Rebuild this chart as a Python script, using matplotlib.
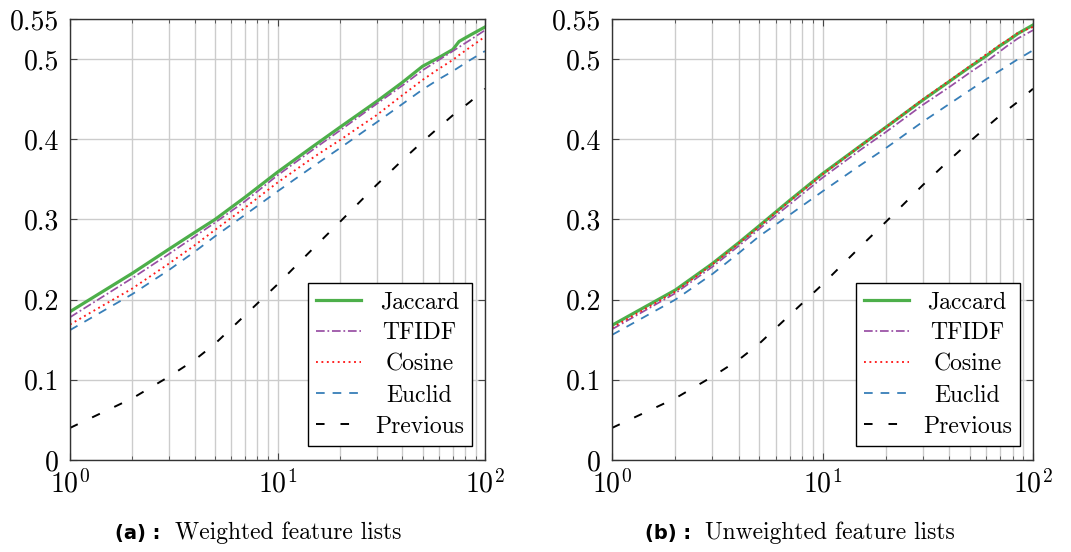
import matplotlib
matplotlib.use("Agg")
import matplotlib.pyplot as plt
from matplotlib.ticker import FixedLocator, FixedFormatter, LogLocator, NullFormatter
from matplotlib.transforms import Affine2D

plt.rcParams['font.family'] = ['cmr10', 'DejaVu Serif']
plt.rcParams['mathtext.fontset'] = 'cm'
plt.rcParams['axes.formatter.use_mathtext'] = True
plt.rcParams['axes.unicode_minus'] = False

# ---------------- data ----------------
k = [1, 2, 3, 4, 5, 7, 10, 15, 20, 30, 40, 50, 60, 70, 75, 85, 100]

w_jaccard = [0.185, 0.233, 0.263, 0.284, 0.300, 0.328, 0.359, 0.392, 0.415, 0.447, 0.471, 0.491,
             0.502, 0.512, 0.522, 0.530, 0.540]
w_tfidf = [0.178, 0.227, 0.257, 0.279, 0.296, 0.323, 0.355, 0.388, 0.411, 0.444, 0.467, 0.486,
           0.499, 0.510, 0.515, 0.524, 0.536]
w_cosine = [0.169, 0.214, 0.245, 0.268, 0.287, 0.315, 0.346, 0.378, 0.399, 0.430, 0.455, 0.474,
            0.488, 0.499, 0.505, 0.515, 0.528]
w_euclid = [0.162, 0.207, 0.237, 0.260, 0.279, 0.306, 0.335, 0.367, 0.389, 0.421, 0.444, 0.462,
            0.475, 0.485, 0.490, 0.499, 0.510]
w_previous = [0.040, 0.077, 0.104, 0.125, 0.145, 0.181, 0.219, 0.265, 0.297, 0.343, 0.374, 0.397,
              0.415, 0.430, 0.436, 0.447, 0.463]

u_jaccard = [0.168, 0.212, 0.245, 0.271, 0.292, 0.324, 0.357, 0.391, 0.415, 0.449, 0.472, 0.490,
             0.504, 0.517, 0.522, 0.532, 0.5425]
u_tfidf = [0.163, 0.208, 0.241, 0.267, 0.288, 0.319, 0.352, 0.386, 0.409, 0.443, 0.465, 0.483,
           0.497, 0.510, 0.516, 0.526, 0.536]
u_cosine = [0.165, 0.210, 0.244, 0.270, 0.291, 0.323, 0.356, 0.391, 0.415, 0.450, 0.473, 0.491,
            0.506, 0.518, 0.523, 0.533, 0.540]
u_euclid = [0.156, 0.200, 0.232, 0.258, 0.279, 0.306, 0.335, 0.367, 0.389, 0.422, 0.444, 0.461,
            0.475, 0.486, 0.491, 0.500, 0.511]
u_previous = [0.040, 0.077, 0.104, 0.125, 0.145, 0.181, 0.219, 0.265, 0.297, 0.343, 0.374, 0.397,
              0.415, 0.430, 0.436, 0.447, 0.463]

labels = ['Jaccard', 'TFIDF', 'Cosine', 'Euclid', 'Previous']
y_ticks = [0, 0.1, 0.2, 0.3, 0.4, 0.5, 0.55]
y_ticklabels = ['0', '0.1', '0.2', '0.3', '0.4', '0.5', '0.55']
captions = [('(a) :', 'Weighted feature lists'), ('(b) :', 'Unweighted feature lists')]

# ---------------- styles ----------------
styles = [
    dict(color='#4daf4a', lw=2.3, ls='-'),
    dict(color='#984ea3', lw=1.25, ls=(0, (5, 1.6, 1, 1.6))),
    dict(color='#ff1a1a', lw=1.35, ls=(0, (1, 1.9))),
    dict(color='#377eb8', lw=1.3, ls=(0, (4.8, 4.4))),
    dict(color='black', lw=1.4, ls=(0, (4.4, 8.2))),
]

W, H = 1071, 552
fig = plt.figure(figsize=(W / 100, H / 100), dpi=100)

ax_boxes = [(70, 485), (612, 1033)]
top_px, bot_px = 19, 460
caption_x = [(115, 175), (645, 705)]

datasets = [
    [w_jaccard, w_tfidf, w_cosine, w_euclid, w_previous],
    [u_jaccard, u_tfidf, u_cosine, u_euclid, u_previous],
]

for i, (x0, x1) in enumerate(ax_boxes):
    ax = fig.add_axes([x0 / W, 1 - bot_px / H, (x1 - x0) / W, (bot_px - top_px) / H])
    handles = []
    for series, lab, st in zip(datasets[i], labels, styles):
        h, = ax.plot(k, series, label=lab, **st)
        handles.append(h)
    ax.set_xscale('log')
    ax.set_xlim(1, 100)
    ax.set_ylim(0, 0.55)
    ax.xaxis.set_major_locator(LogLocator(base=10, numticks=5))
    ax.xaxis.set_minor_locator(LogLocator(base=10, subs=range(2, 10), numticks=20))
    ax.xaxis.set_minor_formatter(NullFormatter())
    ax.yaxis.set_major_locator(FixedLocator(y_ticks))
    ax.yaxis.set_major_formatter(FixedFormatter(y_ticklabels))
    ax.grid(True, which='major', color='#cccccc', lw=1.0)
    ax.grid(True, which='minor', axis='x', color='#cccccc', lw=1.0)
    ax.set_axisbelow(True)
    ax.tick_params(which='both', direction='in', top=True, right=True, labelsize=20,
                   color='#444444')
    ax.tick_params(which='major', length=5, width=0.8)
    ax.tick_params(which='minor', length=3, width=0.6)
    ax.tick_params(axis='x', pad=7)
    ax.tick_params(axis='y', pad=8)
    for sp in ax.spines.values():
        sp.set_color('#333333')
        sp.set_linewidth(1.0)

    leg = ax.legend(handles=handles, loc='lower right', bbox_to_anchor=(0.969, 0.032),
                    borderaxespad=0, fontsize=17, frameon=True, fancybox=False,
                    edgecolor='black', framealpha=1, handlelength=1.9, handletextpad=0.6,
                    labelspacing=0.38, borderpad=0.35)
    leg.get_frame().set_linewidth(1.0)
    fig.canvas.draw()
    texts = leg.get_texts()
    widths = [t.get_window_extent().width for t in texts]
    mw = max(widths)
    for t, w in zip(texts, widths):
        t.set_transform(t.get_transform() + Affine2D().translate((mw - w) / 2, 0))

    cy = 1 - 533 / H
    fig.text(caption_x[i][0] / W, cy, captions[i][0], family='DejaVu Sans', weight='bold',
             fontsize=14, va='center', ha='left')
    fig.text(caption_x[i][1] / W, cy, captions[i][1], fontsize=17, va='center', ha='left')

fig.savefig('out.png', dpi=100)
